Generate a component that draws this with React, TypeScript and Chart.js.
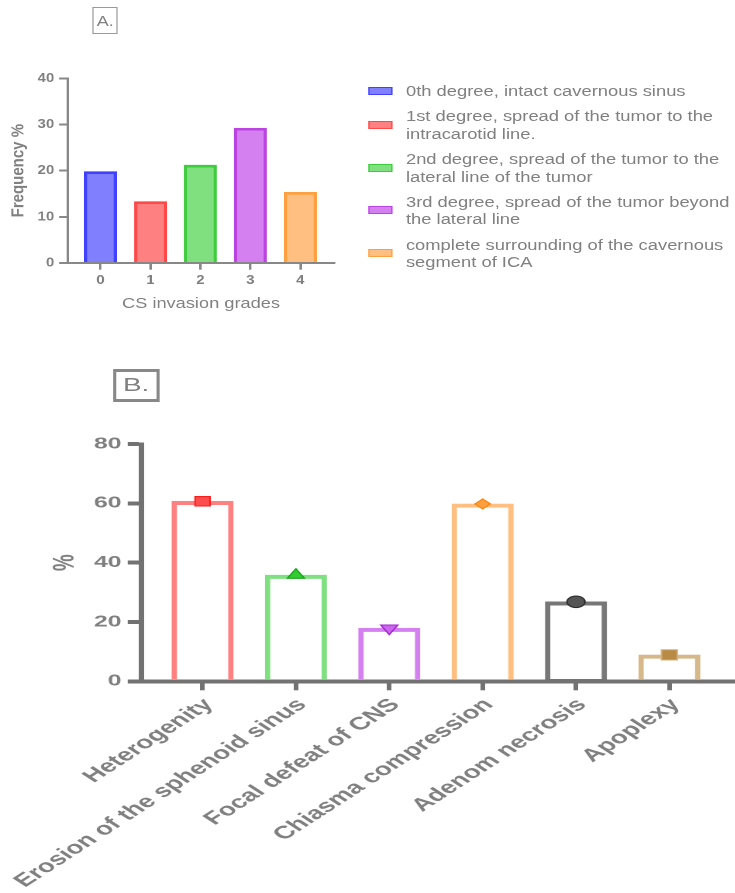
import React, { useEffect, useRef } from "react";
import { Chart, registerables } from "chart.js";

Chart.register(...registerables);

const FONT = "'Liberation Sans', Arial, Helvetica, sans-serif";
const TXT = "#808080";

// ---------- Panel A data ----------
const gradeValues = [0, 1, 2, 3, 4];
const gradeFrequency = [19.8, 13.3, 21.2, 29.2, 15.3];
const gradeFill = ["#8080ff", "#ff8080", "#80e080", "#d580f0", "#ffbf80"];
const gradeBorder = ["#4040ff", "#ff4848", "#3ccc3c", "#bb44e0", "#ffa040"];
const gradeLegend = [
  ["0th degree, intact cavernous sinus"],
  ["1st degree, spread of the tumor to the", "intracarotid line."],
  ["2nd degree, spread of the tumor to the", "lateral line of the tumor"],
  ["3rd degree, spread of the tumor beyond", "the lateral line"],
  ["complete surrounding of the cavernous", "segment of ICA"],
];
const freqTicks = [0, 10, 20, 30, 40];

// ---------- Panel B data ----------
const findingLabels = [
  "Heterogenity",
  "Erosion of the sphenoid sinus",
  "Focal defeat of CNS",
  "Chiasma compression",
  "Adenom necrosis",
  "Apoplexy",
];
const findingPercent = [60.7, 35.8, 17.9, 59.8, 26.8, 8.9];
const findingBorder = ["#ff8080", "#80df80", "#d580f0", "#ffbf80", "#777777", "#d6b88a"];
const markerStyle = ["rect", "triangle", "triangle", "rectRot", "circle", "rect"];
const markerRotation = [0, 0, 180, 0, 0, 0];
const markerFill = ["#ff4d4d", "#33cc33", "#cc66ee", "#ff9f40", "#555555", "#b98a46"];
const markerEdge = ["#ff1a1a", "#16a316", "#a020d0", "#ff8000", "#2a2a2a", "#d4b07a"];
const markerRadius = [6.8, 6.4, 6.4, 5, 5.8, 7.2];
const percentTicks = [0, 20, 40, 60, 80];

// ---------- geometry (unstretched units) ----------
const SA = 1.2; // horizontal stretch of panel A
const SB = 1.55; // horizontal stretch of panel B
const A_W = 285;
const A_H = 330;
const B_W = 483;
const B_H = 553;

export default function App() {
  const refA = useRef<HTMLCanvasElement>(null);
  const refB = useRef<HTMLCanvasElement>(null);

  useEffect(() => {
    const axA = "#888888";
    const chartA = new Chart(refA.current as HTMLCanvasElement, {
      type: "bar",
      data: {
        datasets: [
          {
            data: gradeValues.map((g, i) => ({ x: g, y: gradeFrequency[i] })),
            backgroundColor: gradeFill,
            borderColor: gradeBorder,
            borderWidth: { left: 2.7, right: 2.7, top: 2.7, bottom: 0 },
            barThickness: 26.9,
          },
        ],
      },
      options: {
        animation: false,
        responsive: false,
        maintainAspectRatio: false,
        devicePixelRatio: 2,
        events: [],
        layout: { padding: { left: 0, top: 78.3, right: A_W - 278.6, bottom: 0 } },
        plugins: { legend: { display: false }, tooltip: { enabled: false } },
        scales: {
          x: {
            type: "linear",
            min: -0.656,
            max: 4.68,
            offset: false,
            afterBuildTicks: (s: any) => {
              s.ticks = gradeValues.map((v) => ({ value: v }));
            },
            afterFit: (s: any) => {
              s.height = A_H - 263;
            },
            grid: { display: true, drawOnChartArea: false, drawTicks: true, tickLength: 6.7, color: axA, lineWidth: 2, offset: false },
            border: { display: true, color: axA, width: 2 },
            ticks: {
              autoSkip: false,
              maxRotation: 0,
              padding: 3.3,
              color: TXT,
              font: { family: FONT, size: 12.5, weight: "bold" },
              callback: (v: any) => String(v),
            },
            title: {
              display: true,
              text: "CS invasion grades",
              color: TXT,
              font: { family: FONT, size: 15.2 },
              padding: { top: 0, bottom: 17 },
            },
          },
          y: {
            min: 0,
            max: 40,
            afterBuildTicks: (s: any) => {
              s.ticks = freqTicks.map((v) => ({ value: v }));
            },
            afterFit: (s: any) => {
              s.width = 56.4;
            },
            grid: { display: true, drawOnChartArea: false, drawTicks: true, tickLength: 7.2, color: axA, lineWidth: 2 },
            border: { display: true, color: axA, width: 2 },
            ticks: { padding: 4, color: TXT, font: { family: FONT, size: 12.5, weight: "bold" } },
            title: {
              display: true,
              text: "Frequency %",
              color: TXT,
              font: { family: FONT, size: 15, weight: "bold" },
              padding: { top: 6.6, bottom: 0 },
            },
          },
        },
      },
    } as any);

    const axB = "#727272";
    const chartB = new Chart(refB.current as HTMLCanvasElement, {
      type: "bar",
      data: {
        datasets: [
          {
            type: "scatter",
            order: 0,
            data: findingLabels.map((_, i) => ({ x: i, y: findingPercent[i] })),
            pointStyle: markerStyle,
            pointRotation: markerRotation,
            pointRadius: markerRadius,
            pointBackgroundColor: markerFill,
            pointBorderColor: markerEdge,
            pointBorderWidth: 1,
            showLine: false,
          },
          {
            type: "bar",
            order: 1,
            data: findingLabels.map((_, i) => ({ x: i, y: findingPercent[i] })),
            backgroundColor: "rgba(255,255,255,0)",
            borderColor: findingBorder,
            borderWidth: { left: 2.8, right: 2.8, top: 3.4, bottom: 0 },
            barThickness: 39.4,
          },
        ],
      },
      options: {
        animation: false,
        responsive: false,
        maintainAspectRatio: false,
        devicePixelRatio: 2,
        events: [],
        layout: { padding: { left: 0, top: 104, right: 0, bottom: 0 } },
        plugins: { legend: { display: false }, tooltip: { enabled: false } },
        scales: {
          x: {
            type: "linear",
            min: -0.652,
            max: 5.713,
            offset: false,
            afterBuildTicks: (s: any) => {
              s.ticks = findingLabels.map((_, i) => ({ value: i }));
            },
            afterFit: (s: any) => {
              s.height = B_H - 341.3;
            },
            grid: { display: true, drawOnChartArea: false, drawTicks: true, tickLength: 9, color: axB, lineWidth: 3, offset: false },
            border: { display: true, color: axB, width: 4 },
            ticks: {
              autoSkip: false,
              minRotation: 45,
              maxRotation: 45,
              padding: 4,
              labelOffset: 4,
              color: TXT,
              font: { family: FONT, size: 18, weight: "bold" },
              callback: (v: any) => findingLabels[v as number] ?? "",
            },
          },
          y: {
            min: 0,
            max: 80,
            afterBuildTicks: (s: any) => {
              s.ticks = percentTicks.map((v) => ({ value: v }));
            },
            afterFit: (s: any) => {
              s.width = 91.4;
            },
            grid: { display: true, drawOnChartArea: false, drawTicks: true, tickLength: 9, color: axB, lineWidth: 4 },
            border: { display: true, color: axB, width: 3.5 },
            ticks: { padding: 4, color: TXT, font: { family: FONT, size: 16, weight: "bold" } },
            title: {
              display: true,
              text: "%",
              color: TXT,
              font: { family: FONT, size: 19, weight: "bold" },
              padding: { top: 31, bottom: 0 },
            },
          },
        },
      },
    } as any);

    return () => {
      chartA.destroy();
      chartB.destroy();
    };
  }, []);

  const lineH = 17.3;

  return (
    <div
      style={{
        position: "absolute",
        left: 0,
        top: 0,
        width: 735,
        height: 893,
        overflow: "hidden",
        background: "#ffffff",
        fontFamily: FONT,
      }}
    >
      {/* Panel A (stretched horizontally) */}
      <div
        style={{
          position: "absolute",
          left: 0,
          top: 0,
          width: 735 / SA,
          height: 340,
          transform: `scaleX(${SA})`,
          transformOrigin: "0 0",
        }}
      >
        <div
          style={{
            position: "absolute",
            left: 77.3,
            top: 6.7,
            width: 20.8,
            height: 27.6,
            boxSizing: "border-box",
            border: "1.5px solid #999999",
            color: TXT,
            fontSize: 15,
            lineHeight: "25px",
            textAlign: "center",
          }}
        >
          A.
        </div>
        <canvas ref={refA} width={A_W} height={A_H} style={{ position: "absolute", left: 0, top: 0 }} />
        <div
          style={{
            position: "absolute",
            left: 306.9,
            top: 82,
            display: "flex",
            flexDirection: "column",
            gap: 8.2,
          }}
        >
          {gradeLegend.map((lines, i) => (
            <div key={i} style={{ display: "flex", alignItems: "center" }}>
              <div
                style={{
                  width: 20,
                  height: 8,
                  boxSizing: "border-box",
                  background: gradeFill[i],
                  border: `1.6px solid ${gradeBorder[i]}`,
                  marginRight: 11.4,
                  flex: "none",
                }}
              />
              <div style={{ color: TXT, fontSize: 15.3, lineHeight: `${lineH}px`, whiteSpace: "nowrap" }}>
                {lines.map((t, j) => (
                  <div key={j}>{t}</div>
                ))}
              </div>
            </div>
          ))}
        </div>
      </div>

      {/* Panel B (stretched horizontally) */}
      <div
        style={{
          position: "absolute",
          left: 0,
          top: 340,
          width: B_W,
          height: B_H,
          transform: `scaleX(${SB})`,
          transformOrigin: "0 0",
        }}
      >
        <div
          style={{
            position: "absolute",
            left: 73.1,
            top: 29,
            width: 29.5,
            height: 32.7,
            boxSizing: "border-box",
            borderStyle: "solid",
            borderColor: "#888888",
            borderWidth: "3.3px 2.6px",
            color: TXT,
            fontSize: 18,
            lineHeight: "26px",
            textAlign: "center",
          }}
        >
          B.
        </div>
        <canvas ref={refB} width={B_W} height={B_H} style={{ position: "absolute", left: 0, top: 0 }} />
      </div>
    </div>
  );
}
